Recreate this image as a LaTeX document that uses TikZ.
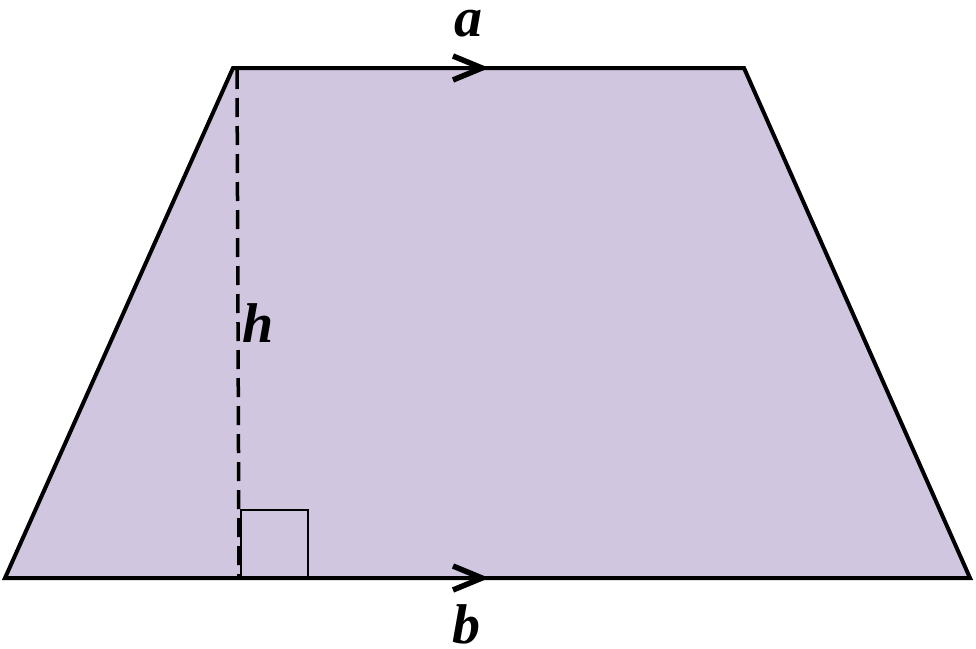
\documentclass[tikz,border=0pt]{standalone}
\usepackage{fontspec}
\setmainfont{Liberation Serif}
\definecolor{trapfill}{RGB}{209,198,224}
\begin{document}
\begin{tikzpicture}[x=1pt,y=-1pt,
  edge/.style={line width=4pt,line join=miter},
  chev/.style={line width=5.5pt,line join=miter},
  lbl/.style={font=\fontsize{56}{56}\selectfont\bfseries\itshape,inner sep=0pt,anchor=base}]
\useasboundingbox (0,0) rectangle (976,648);
\coordinate (bl) at (5,578);
\coordinate (br) at (970,578);
\coordinate (tr) at (744,68);
\coordinate (tl) at (233,68);
\coordinate (hb) at (239,578);
\coordinate (ht) at (237,70);
\coordinate (sq1) at (241,510);
\coordinate (sq2) at (308,578);
\fill[trapfill] (bl) -- (br) -- (tr) -- (tl) -- cycle;
\draw[line width=3.5pt,dash pattern=on 19pt off 9pt] (ht) -- (hb);
\draw[line width=2pt] (sq1|-hb) -- (sq1) -- (sq2|-sq1) -- (sq2);
\draw[edge] (bl) -- (br) -- (tr) -- (tl) -- cycle;
\coordinate (at) at (482,68);
\coordinate (bt) at (482,578);
\draw[chev] ([shift={(-29,-12)}]at) -- (at) -- ([shift={(-29,12)}]at);
\draw[chev] ([shift={(-29,-12)}]bt) -- (bt) -- ([shift={(-29,12)}]bt);
\node[lbl] (la) at (468,36) {a};
\node[lbl] (lh) at (258,342) {h};
\node[lbl] (lb) at (466,643) {b};
\end{tikzpicture}
\end{document}
